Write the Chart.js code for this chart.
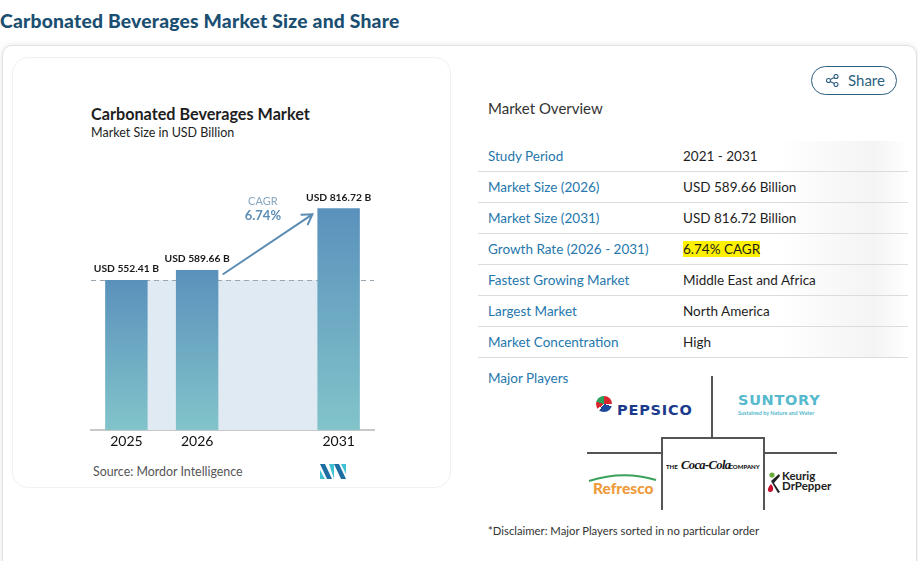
<!DOCTYPE html>
<html>
<head>
<meta charset="utf-8">
<script src="https://cdn.jsdelivr.net/npm/chart.js@4.4.1/dist/chart.umd.min.js"></script>
<style>
  html, body { margin: 0; padding: 0; background: #fff; }
  body { width: 918px; height: 561px; position: relative; overflow: hidden; font-family: Lato, "Open Sans", sans-serif; }
  .abs { position: absolute; }
  #page-title { left: 0; top: 9px; font-size: 19.3px; font-weight: 900; color: #1b4f72; letter-spacing: 0.2px; }
  #outer { left: 2px; top: 45px; width: 913px; height: 540px; border: 1px solid #e2e2e2; border-radius: 10px; box-shadow: 0 0 6px rgba(0,0,0,0.10); background: #fff; }
  #inner { left: 12px; top: 57px; width: 437px; height: 429px; border: 1px solid #f0f1f3; border-radius: 16px; background: #fff; }
  #c-title { left: 91px; top: 104px; font-size: 16.2px; font-weight: 700; color: #1e1e1e; }
  #c-sub { left: 91px; top: 125px; font-size: 12.5px; color: #222; }
  #c-src { left: 93px; top: 464px; font-size: 12.4px; color: #555; }
  #chart-wrap { left: 12px; top: 57px; width: 438px; height: 402px; }
  #share { left: 811px; top: 66px; width: 84px; height: 27px; border: 1.5px solid #2c5f80; border-radius: 15px; color: #2c5f80; font-size: 15px; }
  #share span { position: absolute; left: 36px; top: 4px; }
  #mo { left: 488px; top: 99px; font-size: 15px; color: #333; }
  table { position: absolute; left: 478px; top: 141px; width: 430px; border-collapse: collapse;
          background: linear-gradient(90deg, rgba(255,255,255,0) 70%, #f4f4f4 92%, #fff 100%); }
  td { height: 30px; padding: 0; border-bottom: 1px solid #dcdcdc; font-size: 13.5px; }
  td.k { padding-left: 10px; width: 195px; color: #2677ad; }
  td.v { color: #1e1e1e; }
  .hl { background: #fff200; }
  #mp { left: 488px; top: 370px; font-size: 13.5px; color: #2677ad; }
  #disc { left: 488px; top: 524px; font-size: 11.3px; color: #333; }
  .ln { background: #555; }
</style>
</head>
<body>
<div id="page-title" class="abs">Carbonated Beverages Market Size and Share</div>
<div id="outer" class="abs"></div>
<div id="inner" class="abs"></div>
<div id="c-title" class="abs">Carbonated Beverages Market</div>
<div id="c-sub" class="abs">Market Size in USD Billion</div>
<div id="chart-wrap" class="abs"><canvas id="mkt"></canvas></div>
<div id="c-src" class="abs">Source: Mordor Intelligence</div>
<svg class="abs" style="left:320px;top:464px" width="26" height="15" viewBox="0 0 26 15">
  <polygon points="0,0 5,0 12,15 7,15" fill="#1d6fa3"/>
  <polygon points="0,6 0,15 5,15" fill="#3ec1d3"/>
  <polygon points="9,0 14,0 14,15" fill="#3ec1d3"/>
  <polygon points="14,0 19,0 26,15 21,15" fill="#1d6fa3"/>
  <polygon points="21,0 26,0 26,10" fill="#3ec1d3"/>
</svg>

<div id="share" class="abs">
  <svg class="abs" style="left:14px;top:7px" width="13" height="13" viewBox="0 0 13 13">
    <g fill="none" stroke="#2c5f80" stroke-width="1.1">
      <circle cx="10" cy="2.5" r="2"/><circle cx="2.5" cy="6.5" r="2"/><circle cx="10" cy="10.5" r="2"/>
      <line x1="4.3" y1="5.5" x2="8.2" y2="3.4"/><line x1="4.3" y1="7.5" x2="8.2" y2="9.6"/>
    </g>
  </svg>
  <span>Share</span>
</div>
<div id="mo" class="abs">Market Overview</div>
<table>
  <tr><td class="k">Study Period</td><td class="v">2021 - 2031</td></tr>
  <tr><td class="k">Market Size (2026)</td><td class="v">USD 589.66 Billion</td></tr>
  <tr><td class="k">Market Size (2031)</td><td class="v">USD 816.72 Billion</td></tr>
  <tr><td class="k">Growth Rate (2026 - 2031)</td><td class="v"><span class="hl">6.74% CAGR</span></td></tr>
  <tr><td class="k">Fastest Growing Market</td><td class="v">Middle East and Africa</td></tr>
  <tr><td class="k">Largest Market</td><td class="v">North America</td></tr>
  <tr><td class="k">Market Concentration</td><td class="v">High</td></tr>
</table>
<div id="mp" class="abs">Major Players</div>

<!-- players grid -->
<div class="abs ln" style="left:711px;top:376px;width:1.5px;height:61px"></div>
<div class="abs ln" style="left:587px;top:452px;width:74px;height:1.5px"></div>
<div class="abs ln" style="left:764px;top:452px;width:73px;height:1.5px"></div>
<div class="abs ln" style="left:661px;top:437px;width:103px;height:1.5px"></div>
<div class="abs ln" style="left:661px;top:437px;width:1.5px;height:73px"></div>
<div class="abs ln" style="left:763px;top:437px;width:1.5px;height:73px"></div>

<div class="abs" style="left:596px;top:396px;width:16px;height:16px;border-radius:50%;background:conic-gradient(#d6262e 0 25%,#fff 25% 30%,#1e4a9e 30% 60%,#fff 60% 65%,#d6262e 65% 80%,#2aa05a 80% 100%)"></div>
<div class="abs" style="left:617px;top:402px;font-family:'DejaVu Sans';font-weight:bold;font-size:14.5px;color:#1b3a8c;letter-spacing:0.8px">PEPSICO</div>
<div class="abs" style="left:738px;top:392px;font-family:'DejaVu Sans';font-weight:bold;font-size:14.5px;color:#56b9cd;letter-spacing:0.7px">SUNTORY</div>
<div class="abs" style="left:738px;top:410px;font-size:5.5px;color:#56b9cd;font-weight:700">Sustained by Nature and Water</div>

<div class="abs" style="left:666px;top:463px;font-size:6px;font-weight:900;color:#111">THE</div>
<div class="abs" style="left:681px;top:458px;font-family:'Liberation Serif';font-style:italic;font-weight:bold;font-size:12.5px;color:#111;letter-spacing:-0.6px">Coca-Cola</div>
<div class="abs" style="left:729px;top:463px;font-size:6px;font-weight:900;color:#111">COMPANY</div>

<svg class="abs" style="left:588px;top:472px" width="70" height="10" viewBox="0 0 70 10">
  <path d="M1,9 Q35,-2 68,8" fill="none" stroke="#3aa15a" stroke-width="2"/>
</svg>
<div class="abs" style="left:593px;top:479px;font-weight:900;font-size:15.5px;color:#ee9a3a">Refresco</div>

<svg class="abs" style="left:767px;top:472px" width="14" height="22" viewBox="0 0 14 22">
  <circle cx="5" cy="3" r="2.6" fill="#6cab3c"/>
  <path d="M4,9 L12,2 L13,4 L7,11 L13,20 L11,21 Z" fill="#222"/>
  <path d="M4,12 C7,15 7,20 3,20 C0,20 0,16 4,12 Z" fill="#c8102e"/>
</svg>
<div class="abs" style="left:782px;top:471px;font-weight:700;font-size:11.5px;color:#222;line-height:10px">Keurig<br>DrPepper</div>

<div id="disc" class="abs">*Disclaimer: Major Players sorted in no particular order</div>

<script>
// chart values (USD billion)
const years     = ["2025", "2026", "", "2031"];
const marketSize = [552.41, 589.66, null, 816.72];
const baseline  = [552.41, 552.41, 552.41, 552.41];
const valueLabels = ["USD 552.41 B", "USD 589.66 B", "", "USD 816.72 B"];
const cagrLabel = "CAGR";
const cagrValue = "6.74%";

const FONT = "Lato, 'Open Sans', sans-serif";

// bar gradient, one per bar from its top to the baseline
function barFill(c) {
  const chart = c.chart;
  if (!chart.chartArea || c.raw == null) return "#6aa3c3";
  const y = chart.scales.y;
  const g = chart.ctx.createLinearGradient(0, y.getPixelForValue(c.raw), 0, y.getPixelForValue(0));
  g.addColorStop(0, "#5a91bc");
  g.addColorStop(1, "#82c4ca");
  return g;
}

// dashed reference line at the 2025 value, drawn under the bars
const refLine = {
  id: "refLine",
  beforeDatasetDraw(chart, args) {
    if (args.index !== 0) return;
    const { ctx, chartArea, scales } = chart;
    const yy = Math.round(scales.y.getPixelForValue(baseline[0])) + 0.5;
    ctx.save();
    ctx.strokeStyle = "#9aa6b0";
    ctx.lineWidth = 1;
    ctx.setLineDash([5, 4]);
    ctx.beginPath();
    ctx.moveTo(chartArea.left, yy);
    ctx.lineTo(chartArea.right, yy);
    ctx.stroke();
    ctx.restore();
  }
};

// value labels + CAGR arrow
const annotate = {
  id: "annotate",
  afterDatasetsDraw(chart) {
    const { ctx } = chart;
    const bars = chart.getDatasetMeta(0).data;
    ctx.save();
    ctx.textAlign = "center";
    ctx.textBaseline = "middle";
    ctx.fillStyle = "#1a1a1a";
    ctx.font = "700 10.3px " + FONT;
    bars.forEach((b, i) => {
      if (!valueLabels[i]) return;
      ctx.fillText(valueLabels[i], b.x, b.y - 11);
    });

    const b2 = bars[1], b3 = bars[3];
    const x1 = b2.x + b2.width / 2 + 5, y1 = b2.y + 4;
    const x2 = b3.x - b3.width / 2 - 5, y2 = b3.y + 6;
    ctx.strokeStyle = "#5a8bb2";
    ctx.lineWidth = 2;
    ctx.lineCap = "round";
    ctx.beginPath();
    ctx.moveTo(x1, y1);
    ctx.lineTo(x2, y2);
    const ang = Math.atan2(y2 - y1, x2 - x1);
    const hl = 11;
    ctx.moveTo(x2 - hl * Math.cos(ang - 0.55), y2 - hl * Math.sin(ang - 0.55));
    ctx.lineTo(x2, y2);
    ctx.lineTo(x2 - hl * Math.cos(ang + 0.55), y2 - hl * Math.sin(ang + 0.55));
    ctx.stroke();

    const tx = (b2.x + b3.x) / 2 - 5;
    ctx.fillStyle = "#86a7c0";
    ctx.font = "400 11px " + FONT;
    ctx.fillText(cagrLabel, tx, b3.y - 7);
    ctx.fillStyle = "#5b8db5";
    ctx.font = "700 13px " + FONT;
    ctx.fillText(cagrValue, tx, b3.y + 8);
    ctx.restore();
  }
};

new Chart(document.getElementById("mkt"), {
  data: {
    labels: years,
    datasets: [
      {
        type: "bar",
        data: marketSize,
        backgroundColor: barFill,
        barPercentage: 0.6,
        categoryPercentage: 1,
        order: 1
      },
      {
        type: "line",
        data: baseline,
        borderWidth: 0,
        pointRadius: 0,
        fill: "origin",
        backgroundColor: "#e0eaf3",
        order: 2
      }
    ]
  },
  options: {
    responsive: true,
    maintainAspectRatio: false,
    animation: false,
    events: [],
    layout: { padding: { left: 79, right: 76, top: 101.5, bottom: 6 } },
    plugins: { legend: { display: false }, tooltip: { enabled: false } },
    scales: {
      x: {
        grid: { display: false, drawTicks: false },
        border: { display: true, color: "#c8c8c8", width: 2 },
        ticks: { color: "#111", font: { family: FONT, size: 14 }, padding: 3 }
      },
      y: { display: false, min: 0, max: 1000 }
    }
  },
  plugins: [refLine, annotate]
});
</script>
</body>
</html>
